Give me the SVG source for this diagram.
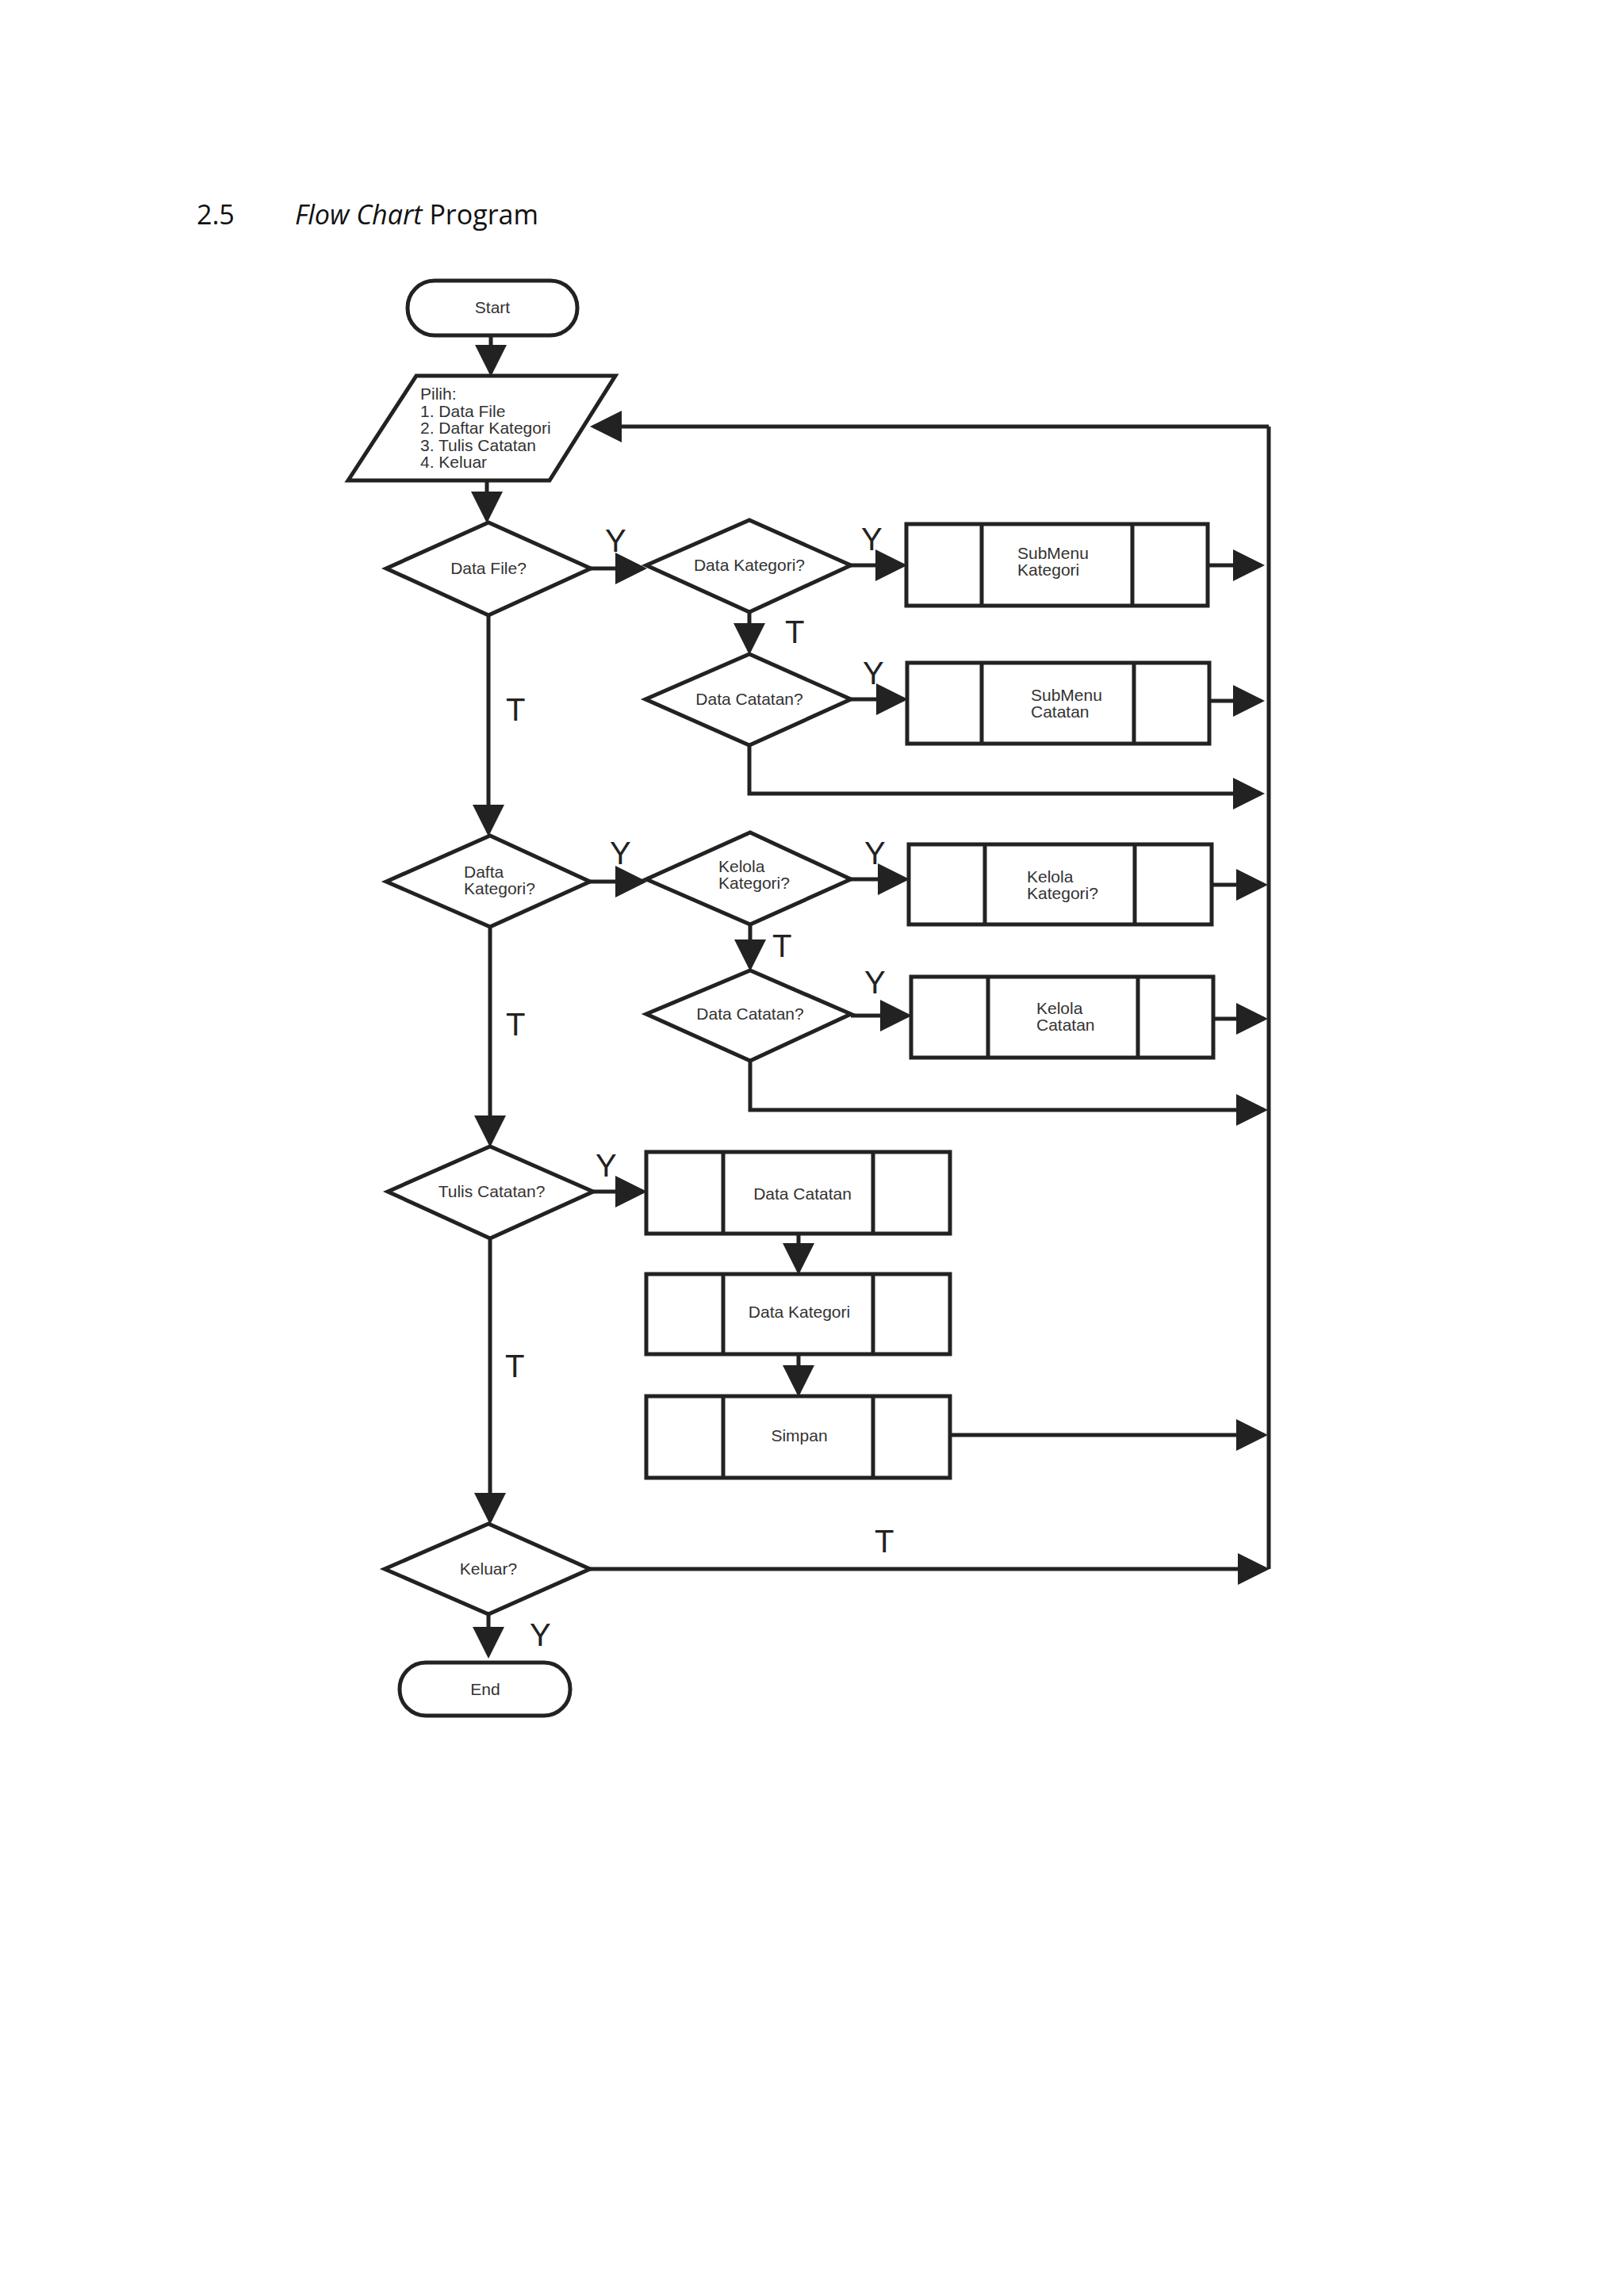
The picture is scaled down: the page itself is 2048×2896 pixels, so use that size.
<svg xmlns="http://www.w3.org/2000/svg" width="2048" height="2896" viewBox="0 0 2048 2896">
<style>
.s{fill:#fff;stroke:#222;stroke-width:5}
.l{fill:none;stroke:#222;stroke-width:5}
.t{font-family:"Liberation Sans",Arial,sans-serif;font-size:21px;fill:#333}
.c{text-anchor:middle}
.lb{font-family:"Liberation Sans",Arial,sans-serif;font-size:40px;fill:#222}
.h{font-family:"Open Sans","Liberation Sans",sans-serif;font-size:34px;fill:#111}
</style>
<defs><marker id="a" markerWidth="8" markerHeight="8" refX="7" refY="4" orient="auto" markerUnits="strokeWidth"><path d="M0,0L8,4L0,8z" fill="#222"/></marker></defs>
<rect width="2048" height="2896" fill="#fff"/>
<text class="h" x="248" y="283">2.5</text>
<text class="h" x="372" y="283"><tspan font-style="italic">Flow Chart</tspan> Program</text>
<g id="start"><rect class="s" x="514" y="354" width="214" height="69" rx="34"/><text class="t c" x="621" y="395">Start</text></g>
<g id="pilih"><polygon class="s" points="525,474 776,474 693,606 439,606"/>
<text class="t" x="530" y="504">Pilih:<tspan x="530" dy="21.5">1. Data File</tspan><tspan x="530" dy="21.5">2. Daftar Kategori</tspan><tspan x="530" dy="21.5">3. Tulis Catatan</tspan><tspan x="530" dy="21.5">4. Keluar</tspan></text></g>
<g id="d1"><polygon class="s" points="487,717 616,659 745,717 616,776"/><text class="t c" x="616" y="724">Data File?</text></g>
<g id="d2"><polygon class="s" points="815,713 945,656 1073,713 945,772"/><text class="t c" x="945" y="720">Data Kategori?</text></g>
<g id="b1"><rect class="s" x="1143" y="661" width="380" height="103"/><path class="l" d="M1238,661V764M1428,661V764"/><text class="t" x="1283" y="705">SubMenu<tspan x="1283" dy="21">Kategori</tspan></text></g>
<g id="d3"><polygon class="s" points="814,882 945,825 1073,882 945,940"/><text class="t c" x="945" y="889">Data Catatan?</text></g>
<g id="b2"><rect class="s" x="1144" y="836" width="381" height="102"/><path class="l" d="M1238,836V938M1430,836V938"/><text class="t" x="1300" y="884">SubMenu<tspan x="1300" dy="21">Catatan</tspan></text></g>
<g id="d4"><polygon class="s" points="487,1112 618,1054 744,1112 618,1169"/><text class="t" x="585" y="1107">Dafta<tspan x="585" dy="21">Kategori?</tspan></text></g>
<g id="d5"><polygon class="s" points="815,1109 946,1050 1073,1109 946,1166"/><text class="t" x="906" y="1100">Kelola<tspan x="906" dy="21">Kategori?</tspan></text></g>
<g id="b3"><rect class="s" x="1146" y="1065" width="382" height="101"/><path class="l" d="M1242,1065V1166M1431,1065V1166"/><text class="t" x="1295" y="1113">Kelola<tspan x="1295" dy="21">Kategori?</tspan></text></g>
<g id="d6"><polygon class="s" points="815,1279 946,1224 1073,1279 946,1338"/><text class="t c" x="946" y="1286">Data Catatan?</text></g>
<g id="b4"><rect class="s" x="1149" y="1232" width="381" height="102"/><path class="l" d="M1246,1232V1334M1435,1232V1334"/><text class="t" x="1307" y="1279">Kelola<tspan x="1307" dy="21">Catatan</tspan></text></g>
<g id="d7"><polygon class="s" points="489,1503 618,1446 748,1503 618,1562"/><text class="t c" x="620" y="1510">Tulis Catatan?</text></g>
<g id="b5"><rect class="s" x="815" y="1453" width="383" height="103"/><path class="l" d="M912,1453V1556M1101,1453V1556"/><text class="t c" x="1012" y="1513">Data Catatan</text></g>
<g id="b6"><rect class="s" x="815" y="1607" width="383" height="101"/><path class="l" d="M912,1607V1708M1101,1607V1708"/><text class="t c" x="1008" y="1662">Data Kategori</text></g>
<g id="b7"><rect class="s" x="815" y="1761" width="383" height="103"/><path class="l" d="M912,1761V1864M1101,1761V1864"/><text class="t c" x="1008" y="1818">Simpan</text></g>
<g id="d8"><polygon class="s" points="485,1979 616,1922 744,1979 616,2036"/><text class="t c" x="616" y="1986">Keluar?</text></g>
<g id="end"><rect class="s" x="504" y="2097" width="215" height="67" rx="33"/><text class="t c" x="612" y="2138">End</text></g>
<g id="connectors">
<path class="l" marker-end="url(#a)" d="M619,423V470"/>
<path class="l" marker-end="url(#a)" d="M614,606V655"/>
<path class="l" marker-end="url(#a)" d="M745,717H811"/>
<path class="l" marker-end="url(#a)" d="M1073,713H1139"/>
<path class="l" marker-end="url(#a)" d="M1523,713H1590"/>
<path class="l" marker-end="url(#a)" d="M945,772V821"/>
<path class="l" marker-end="url(#a)" d="M1073,882H1140"/>
<path class="l" marker-end="url(#a)" d="M1525,884H1590"/>
<path class="l" marker-end="url(#a)" d="M945,940V1001H1590"/>
<path class="l" marker-end="url(#a)" d="M616,776V1050"/>
<path class="l" marker-end="url(#a)" d="M744,1112H811"/>
<path class="l" marker-end="url(#a)" d="M1073,1109H1142"/>
<path class="l" marker-end="url(#a)" d="M1528,1116H1594"/>
<path class="l" marker-end="url(#a)" d="M946,1166V1220"/>
<path class="l" marker-end="url(#a)" d="M1073,1281H1145"/>
<path class="l" marker-end="url(#a)" d="M1530,1285H1594"/>
<path class="l" marker-end="url(#a)" d="M946,1338V1400H1594"/>
<path class="l" marker-end="url(#a)" d="M618,1169V1442"/>
<path class="l" marker-end="url(#a)" d="M748,1503H811"/>
<path class="l" marker-end="url(#a)" d="M1007,1556V1603"/>
<path class="l" marker-end="url(#a)" d="M1007,1708V1757"/>
<path class="l" marker-end="url(#a)" d="M1198,1810H1594"/>
<path class="l" marker-end="url(#a)" d="M618,1562V1918"/>
<path class="l" marker-end="url(#a)" d="M744,1979H1596"/>
<path class="l" marker-end="url(#a)" d="M616,2036V2087"/>
<path class="l" d="M1600,1979V538"/>
<path class="l" marker-end="url(#a)" d="M1600,538H749"/>
</g>
<g id="labels">
<text class="lb" x="763" y="696">Y</text><text class="lb" x="1086" y="694">Y</text>
<text class="lb" x="990" y="811">T</text><text class="lb" x="1088" y="863">Y</text>
<text class="lb" x="638" y="909">T</text>
<text class="lb" x="769" y="1090">Y</text><text class="lb" x="1090" y="1090">Y</text>
<text class="lb" x="974" y="1207">T</text><text class="lb" x="1090" y="1253">Y</text>
<text class="lb" x="638" y="1306">T</text>
<text class="lb" x="751" y="1484">Y</text><text class="lb" x="637" y="1737">T</text>
<text class="lb" x="1103" y="1958">T</text><text class="lb" x="668" y="2076">Y</text>
</g>
</svg>
